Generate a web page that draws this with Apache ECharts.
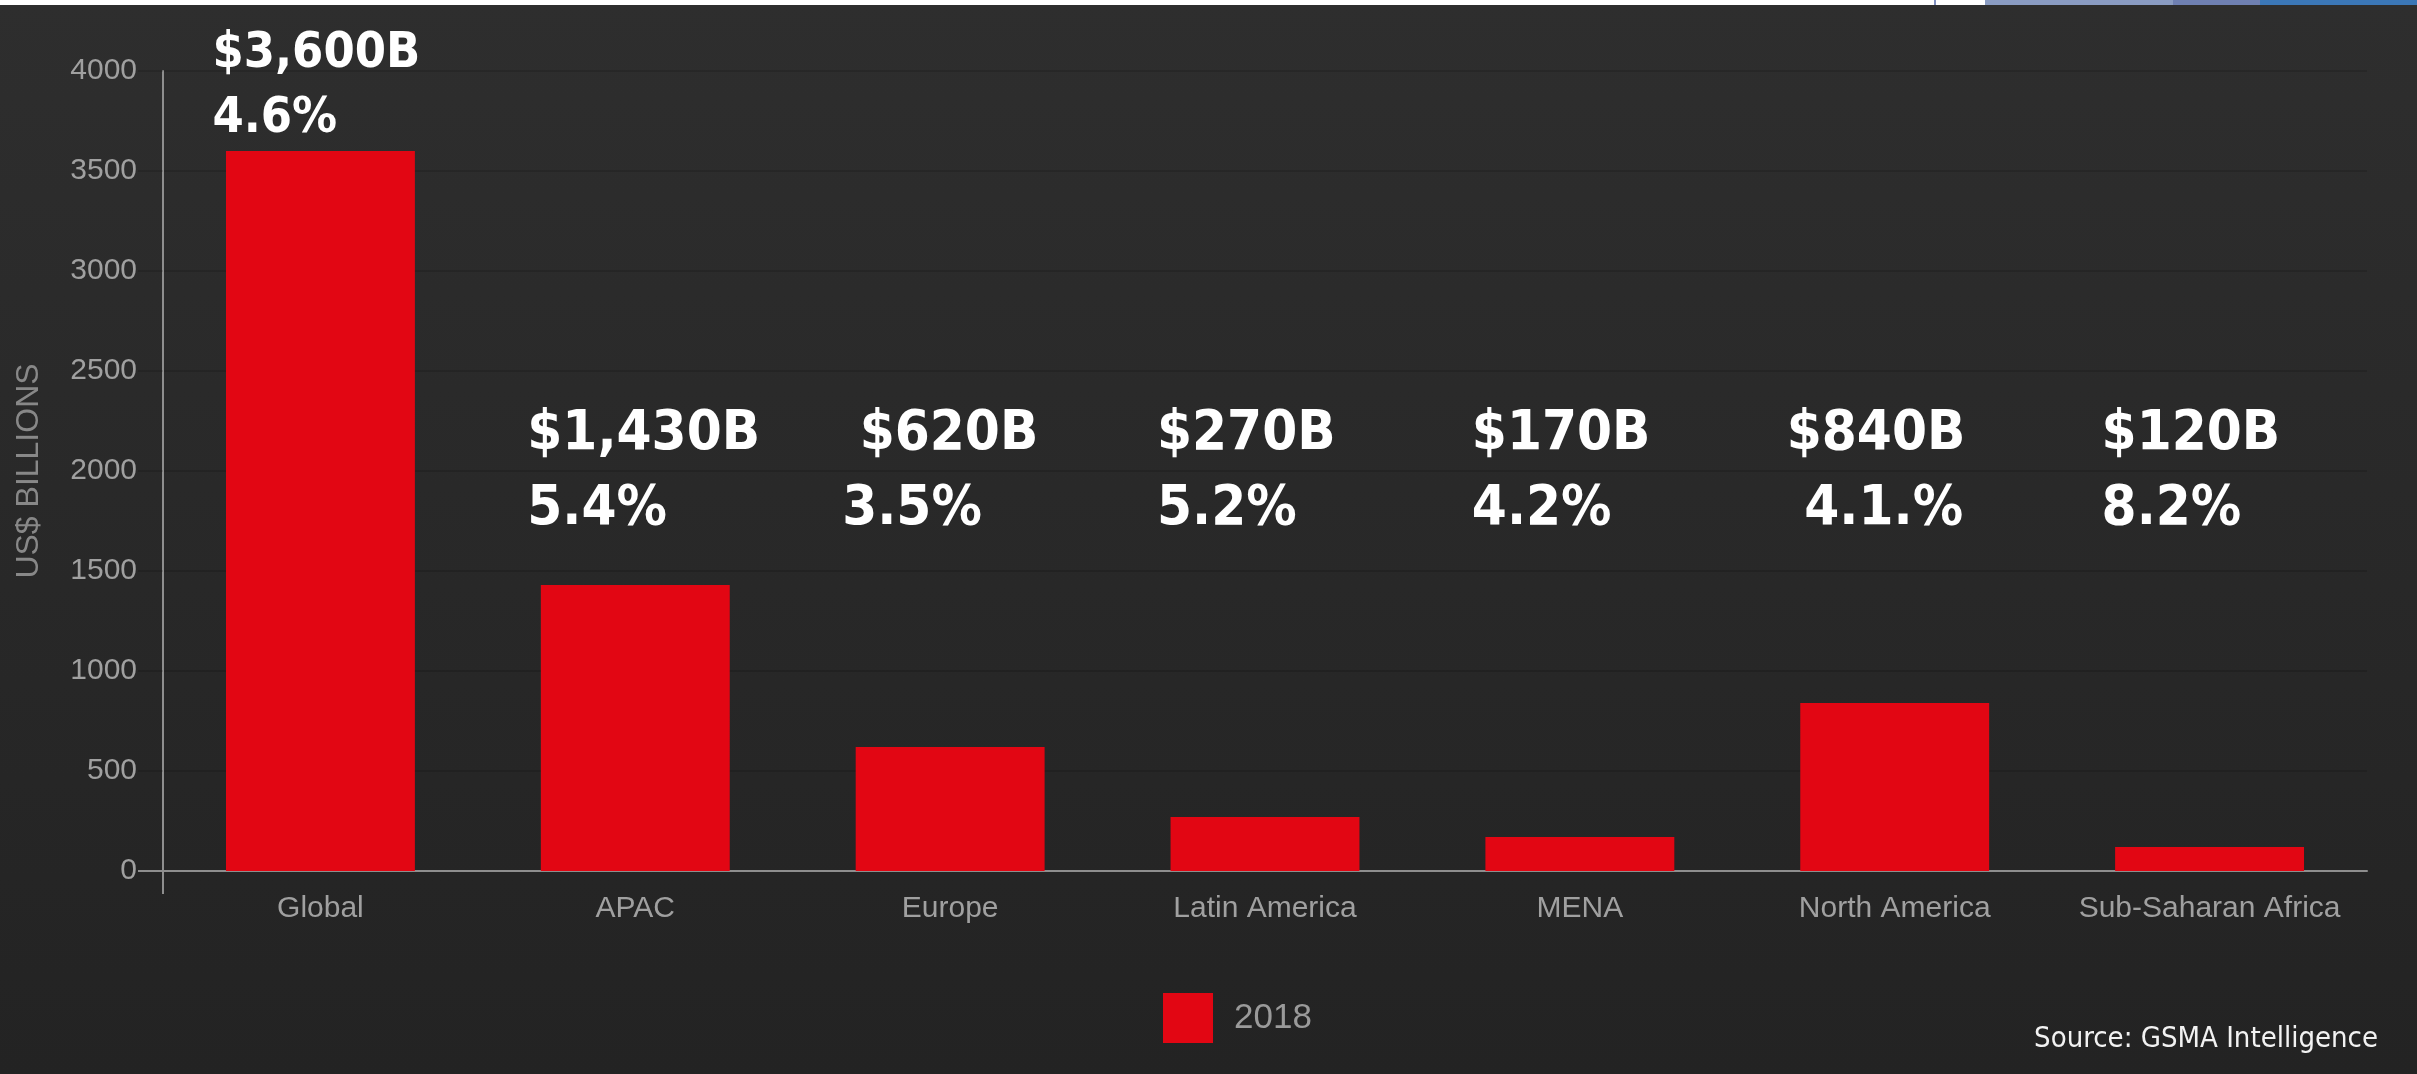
<!DOCTYPE html>
<html>
<head>
<meta charset="utf-8">
<script src="https://cdn.jsdelivr.net/npm/echarts@6/dist/echarts.min.js"></script>
<style>
  html, body { margin: 0; padding: 0; background: #2a2a2a; }
  #chart { width: 2417px; height: 1074px; }
</style>
</head>
<body>
<div id="chart"></div>
<script>
// ---- data ----
const categories = ['Global', 'APAC', 'Europe', 'Latin America', 'MENA', 'North America', 'Sub-Saharan Africa'];
const revenue2018 = [3600, 1430, 620, 270, 170, 840, 120];
const valueLabels = ['$3,600B', '$1,430B', ' $620B', '$270B', '$170B', '$840B', '$120B'];
const growthLabels = ['4.6%', '5.4%', '3.5%', '5.2%', '4.2%', ' 4.1.%', '8.2%'];
const yTicks = [0, 500, 1000, 1500, 2000, 2500, 3000, 3500, 4000];
const seriesName = '2018';
const axisTitle = 'US$ BILLIONS';
const sourceText = 'Source: GSMA Intelligence';

// ---- styling ----
const RED = '#e20613';
const GRID_LINE = 'rgba(0,0,0,0.13)';
const AXIS_GRAY = '#8e8e8e';
const LABEL_GRAY = '#a0a0a0';
const LABEL_FLOOR = 1650; // labels of short bars sit on a common row

const chart = echarts.init(document.getElementById('chart'), null, { renderer: 'canvas' });

const option = {
  backgroundColor: {
    type: 'linear', x: 0, y: 0, x2: 0, y2: 1,
    colorStops: [{ offset: 0, color: '#2e2e2e' }, { offset: 1, color: '#232323' }]
  },
  animation: false,
  grid: { left: 163, right: 50, top: 71, bottom: 203, containLabel: false },
  legend: {
    data: [seriesName],
    left: 1163, top: 993, padding: 0,
    itemWidth: 50, itemHeight: 50, icon: 'rect',
    textStyle: { color: '#9a9a9a', fontSize: 35, fontFamily: 'Liberation Sans', padding: [0, 0, 0, 16] }
  },
  xAxis: [{
    type: 'category',
    data: categories,
    axisLine: { show: true, lineStyle: { color: AXIS_GRAY, width: 2 } },
    axisTick: { show: false },
    axisLabel: { color: LABEL_GRAY, fontSize: 30, fontFamily: 'Liberation Sans', margin: 23, interval: 0 },
    splitLine: { show: false }
  }, {
    type: 'value',
    min: 0, max: 1,
    position: 'bottom',
    axisLine: { show: false },
    axisTick: { show: true, length: 23, customValues: [0], lineStyle: { color: AXIS_GRAY, width: 2 } },
    axisLabel: { show: false },
    splitLine: { show: false }
  }],
  yAxis: [{
    type: 'value',
    min: 0, max: 4000, interval: 500,
    name: axisTitle,
    nameLocation: 'middle',
    nameGap: 118,
    nameTextStyle: { color: '#888888', fontSize: 32, fontFamily: 'Liberation Sans' },
    axisLine: { show: true, lineStyle: { color: AXIS_GRAY, width: 2 } },
    axisTick: { show: true, length: 25, lineStyle: { color: GRID_LINE, width: 2 } },
    axisLabel: { color: LABEL_GRAY, fontSize: 30, fontFamily: 'Liberation Sans', margin: 26,
      formatter: (v) => yTicks.includes(v) ? String(v) : '' },
    splitLine: { show: true, lineStyle: { color: GRID_LINE, width: 2 } }
  }, {
    type: 'value',
    min: 0, max: 4000, interval: 500,
    position: 'left',
    axisLine: { show: false },
    axisTick: { show: true, length: 25, customValues: [0], lineStyle: { color: AXIS_GRAY, width: 2 } },
    axisLabel: { show: false },
    splitLine: { show: false }
  }],
  series: [{
    name: seriesName,
    type: 'bar',
    data: revenue2018,
    barCategoryGap: '40%',
    itemStyle: { color: RED },
    z: 3
  }, {
    name: 'labels',
    type: 'custom',
    data: revenue2018.map((v, i) => [i, v]),
    encode: { x: 0, y: 1 },
    z: 5,
    silent: true,
    clip: false,
    renderItem: function (params, api) {
      const i = api.value(0);
      const v = api.value(1);
      const raised = v > LABEL_FLOOR;
      const pt = api.coord([i, Math.max(v, LABEL_FLOOR)]);
      const band = api.size([1, 0])[0];
      const x = pt[0] - band * 0.343;
      const fs = raised ? 50 : 56;
      const gap = raised ? 65 : 75;
      const y2 = pt[1] - 32;
      const y1 = y2 - gap;
      const font = '600 ' + fs + 'px "DejaVu Sans Condensed", "DejaVu Sans", sans-serif';
      const mk = (text, y) => ({
        type: 'text',
        style: {
          text: text, x: x, y: y, fill: '#ffffff', font: font,
          align: 'left', verticalAlign: 'middle', textAlign: 'left', textVerticalAlign: 'middle'
        }
      });
      return { type: 'group', children: [mk(valueLabels[i], y1), mk(growthLabels[i], y2)] };
    }
  }],
  graphic: [
    { type: 'rect', left: 0, top: 0, shape: { width: 2417, height: 5 }, style: { fill: '#ffffff' } },
    { type: 'rect', left: 1934, top: 0, shape: { width: 2, height: 5 }, style: { fill: '#8090c0' } },
    { type: 'rect', left: 1985, top: 0, shape: { width: 188, height: 5 }, style: { fill: '#8a9cc2' } },
    { type: 'rect', left: 2173, top: 0, shape: { width: 87, height: 5 }, style: { fill: '#6f80b2' } },
    { type: 'rect', left: 2260, top: 0, shape: { width: 157, height: 5 }, style: { fill: '#3b77b7' } },
    {
      type: 'text', right: 39, top: 1025,
      style: { text: sourceText, fill: '#f2f2f2', font: '29px "DejaVu Sans Condensed", "DejaVu Sans", sans-serif' }
    }
  ]
};

chart.setOption(option);
</script>
</body>
</html>
